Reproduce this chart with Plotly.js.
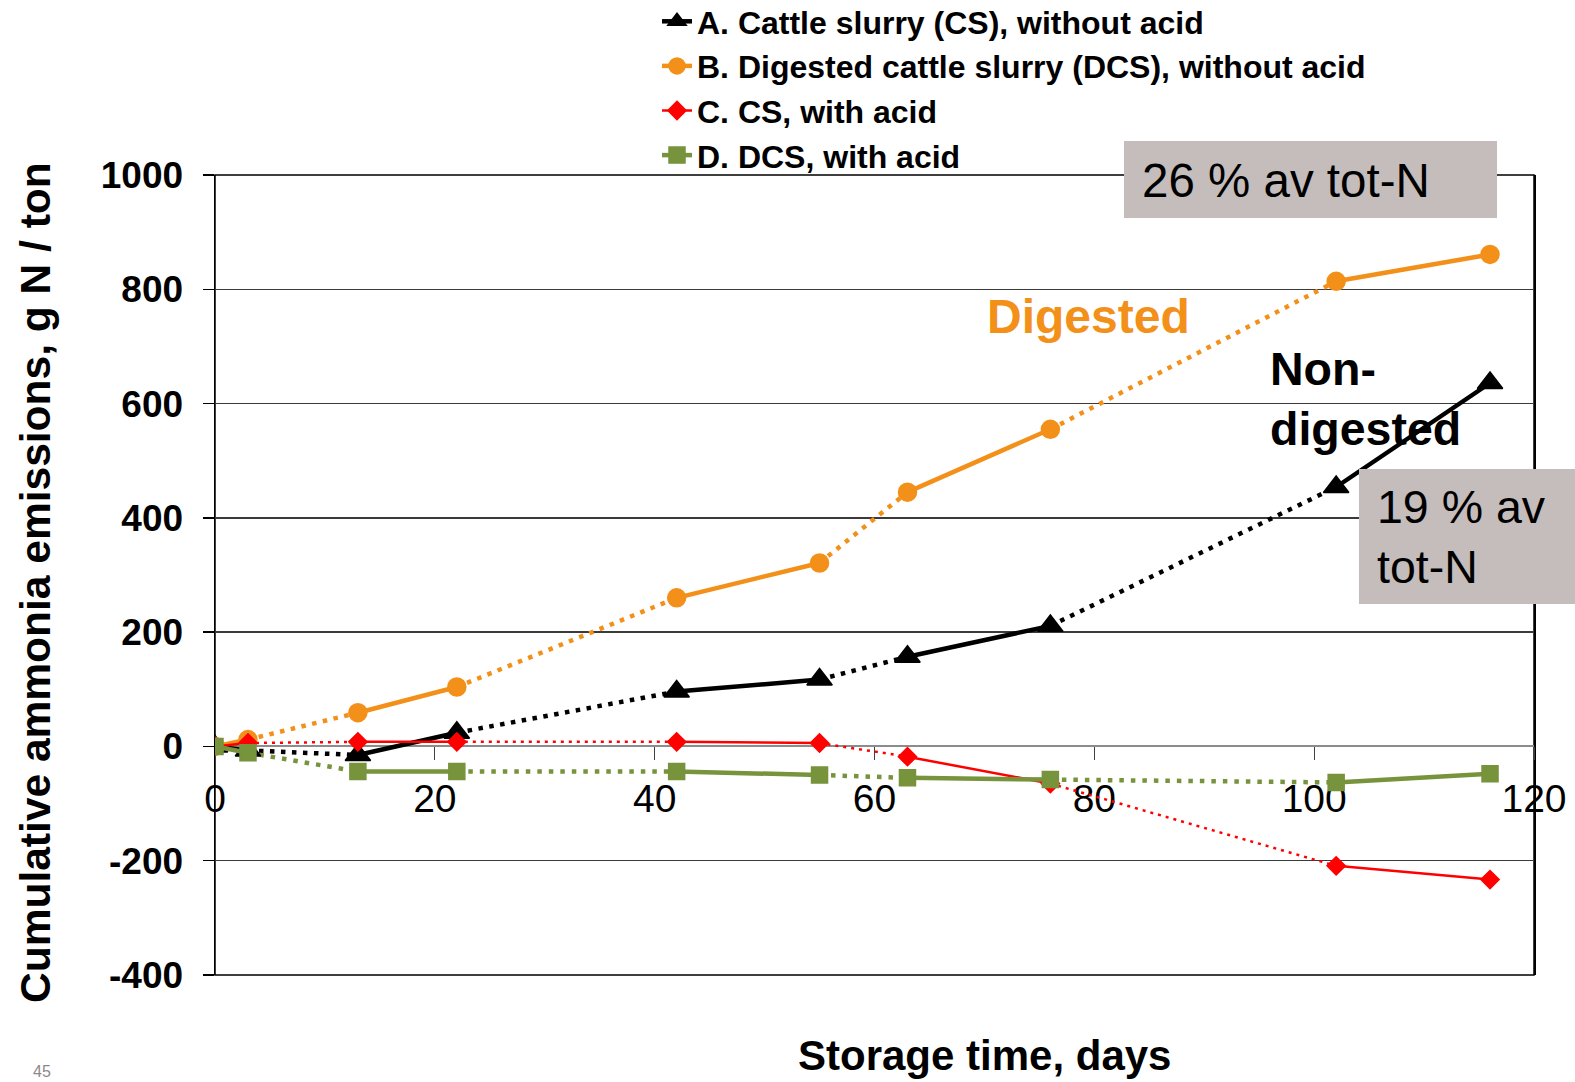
<!DOCTYPE html>
<html>
<head>
<meta charset="utf-8">
<script src="https://cdn.plot.ly/plotly-3.0.1.min.js"></script>
<style>
  html, body { margin: 0; padding: 0; background: #ffffff; }
  #chart { width: 1575px; height: 1082px; }
</style>
</head>
<body>
<div id="chart"></div>
<script>
// Storage time (days) at each measurement
const days = [0, 3, 13, 22, 42, 55, 63, 76, 102, 116];

// Cumulative ammonia emissions, g N / ton
const cattleNoAcid   = [0, -7, -15, 24, 96, 117, 157, 211, 454, 636];
const digestedNoAcid = [0, 12, 59, 104, 260, 321, 445, 555, 814, 861];
const cattleAcid     = [0, 6, 8, 8, 8, 6, -18, -65, -209, -233];
const digestedAcid   = [0, -11, -44, -44, -44, -50, -55, -58, -63, -48];

const seriesNames = [
  'A. Cattle slurry (CS), without acid',
  'B. Digested cattle slurry (DCS), without acid',
  'C. CS, with acid',
  'D. DCS, with acid'
];

const xTickVals = [0, 20, 40, 60, 80, 100, 120];
const yTickVals = [-400, -200, 0, 200, 400, 600, 800, 1000];

// Measured periods are drawn solid, the gaps between them dotted
const measuredPairs = [[0, 1], [2, 3], [4, 5], [6, 7], [8, 9]];
const gapPairs = [[1, 2], [3, 4], [5, 6], [7, 8]];

const FONT = 'Liberation Sans, Arial, Helvetica, sans-serif';
const W = 1575, H = 1082;
const M = { l: 215, r: 41, t: 175, b: 107 };
const plotW = W - M.l - M.r;
const plotH = H - M.t - M.b;
const px = v => (v - M.l) / plotW;
const py = v => (H - M.b - v) / plotH;

const xRange = [0, 120];
const yRange = [-400, 1000];
const zeroPos = (0 - yRange[0]) / (yRange[1] - yRange[0]);

function pairsToPath(xs, ys, pairs) {
  const X = [], Y = [];
  pairs.forEach(([a, b], i) => {
    if (i > 0) { X.push(null); Y.push(null); }
    X.push(xs[a], xs[b]);
    Y.push(ys[a], ys[b]);
  });
  return { X, Y };
}

const styles = [
  { color: '#000000', symbol: 'triangle-up', size: 22, width: 4.5, dot: '4.5px,6.5px' },
  { color: '#F39019', symbol: 'circle',      size: 18, width: 4.5, dot: '4.5px,6.5px' },
  { color: '#FF0000', symbol: 'diamond',     size: 14, width: 2.5, dot: '3px,5px' },
  { color: '#77933C', symbol: 'square',      size: 16, width: 4.5, dot: '4.5px,7px' }
];
const allSeries = [cattleNoAcid, digestedNoAcid, cattleAcid, digestedAcid];

const traces = [];
// dotted connections underneath
allSeries.forEach((ys, i) => {
  const p = pairsToPath(days, ys, gapPairs);
  traces.push({
    x: p.X, y: p.Y, type: 'scatter', mode: 'lines',
    connectgaps: false, showlegend: false, legendgroup: 'g' + i,
    line: { color: styles[i].color, width: styles[i].width, dash: styles[i].dot },
    hoverinfo: 'skip'
  });
});
// solid measured periods with markers
allSeries.forEach((ys, i) => {
  const p = pairsToPath(days, ys, measuredPairs);
  traces.push({
    x: p.X, y: p.Y, type: 'scatter', mode: 'lines+markers',
    connectgaps: false, name: seriesNames[i], legendgroup: 'g' + i,
    line: { color: styles[i].color, width: styles[i].width },
    marker: { symbol: styles[i].symbol, size: styles[i].size, color: styles[i].color,
              line: { color: styles[i].color, width: 1.5 } }
  });
});

const layout = {
  width: W, height: H,
  margin: { l: M.l, r: M.r, t: M.t, b: M.b, autoexpand: false },
  paper_bgcolor: '#ffffff', plot_bgcolor: '#ffffff',
  font: { family: FONT, color: '#000000' },
  showlegend: true,
  hovermode: false,
  legend: {
    x: px(657), xanchor: 'left', y: py(-6), yanchor: 'top',
    font: { family: FONT, size: 32, weight: 700, color: '#000000' },
    bgcolor: 'rgba(0,0,0,0)', tracegroupgap: 0, traceorder: 'normal'
  },
  xaxis: {
    range: xRange, tickvals: xTickVals, ticktext: xTickVals.map(String),
    anchor: 'free', position: zeroPos,
    showline: true, linecolor: '#8c8c8c', linewidth: 2,
    ticks: 'outside', ticklen: 13, tickwidth: 1, tickcolor: '#404040',
    ticklabelstandoff: 5,
    tickfont: { family: FONT, size: 39, color: '#000000' },
    showgrid: false, zeroline: false, layer: 'below traces', fixedrange: true
  },
  xaxis2: {
    range: xRange, tickvals: xTickVals, overlaying: 'x',
    anchor: 'free', position: zeroPos,
    ticks: 'inside', ticklen: 13, tickwidth: 1, tickcolor: '#404040',
    showticklabels: false, showline: false, showgrid: false, zeroline: false,
    layer: 'below traces', fixedrange: true
  },
  yaxis: {
    range: yRange, tickvals: yTickVals, ticktext: yTickVals.map(String),
    showgrid: true, gridcolor: '#3a3a3a', gridwidth: 1.4,
    zeroline: false, showline: true, mirror: true, linecolor: '#000000', linewidth: 1.5,
    ticks: 'outside', ticklen: 11, tickwidth: 1.5, tickcolor: '#000000',
    ticklabelstandoff: 12,
    tickfont: { family: FONT, size: 37, weight: 700, color: '#000000' },
    layer: 'below traces', fixedrange: true
  },
  shapes: [
    { type: 'rect', xref: 'x domain', yref: 'y domain', x0: 0, x1: 1, y0: 0, y1: 1,
      line: { color: '#000000', width: 1.5 }, fillcolor: 'rgba(0,0,0,0)', layer: 'below' },
    { type: 'rect', xref: 'paper', yref: 'paper', x0: px(1124), x1: px(1497), y0: py(218), y1: py(141),
      line: { width: 0 }, fillcolor: '#c4bdbb', layer: 'above' },
    { type: 'rect', xref: 'paper', yref: 'paper', x0: px(1359), x1: px(1590), y0: py(604), y1: py(469),
      line: { width: 0 }, fillcolor: '#c4bdbb', layer: 'above' }
  ],
  annotations: [
    { text: 'Cumulative ammonia emissions, g N / ton', textangle: -90,
      xref: 'paper', yref: 'paper', x: px(35), y: py(583), xanchor: 'center', yanchor: 'middle',
      showarrow: false, font: { family: FONT, size: 42.5, weight: 700, color: '#000000' } },
    { text: 'Storage time, days',
      xref: 'paper', yref: 'paper', x: px(984), y: py(1055), xanchor: 'center', yanchor: 'middle',
      showarrow: false, font: { family: FONT, size: 42, weight: 700, color: '#000000' } },
    { text: 'Digested',
      xref: 'paper', yref: 'paper', x: px(985), y: py(316), xanchor: 'left', yanchor: 'middle',
      showarrow: false, font: { family: FONT, size: 48, weight: 700, color: '#F39019' } },
    { text: 'Non-<br>digested', align: 'left',
      xref: 'paper', yref: 'paper', x: px(1268), y: py(399), xanchor: 'left', yanchor: 'middle',
      showarrow: false, font: { family: FONT, size: 46.5, weight: 700, color: '#000000' } },
    { text: '26 % av tot-N',
      xref: 'paper', yref: 'paper', x: px(1140), y: py(181), xanchor: 'left', yanchor: 'middle',
      showarrow: false, font: { family: FONT, size: 47.5, color: '#000000' } },
    { text: '19 % av<br>tot-N', align: 'left',
      xref: 'paper', yref: 'paper', x: px(1375), y: py(537), xanchor: 'left', yanchor: 'middle',
      showarrow: false, font: { family: FONT, size: 46.5, color: '#000000' } },
    { text: '45',
      xref: 'paper', yref: 'paper', x: px(42), y: py(1071), xanchor: 'center', yanchor: 'middle',
      showarrow: false, font: { family: FONT, size: 16, color: '#8a8a8a' } }
  ]
};

Plotly.newPlot('chart', traces, layout, { staticPlot: true, displayModeBar: false });
</script>
</body>
</html>
